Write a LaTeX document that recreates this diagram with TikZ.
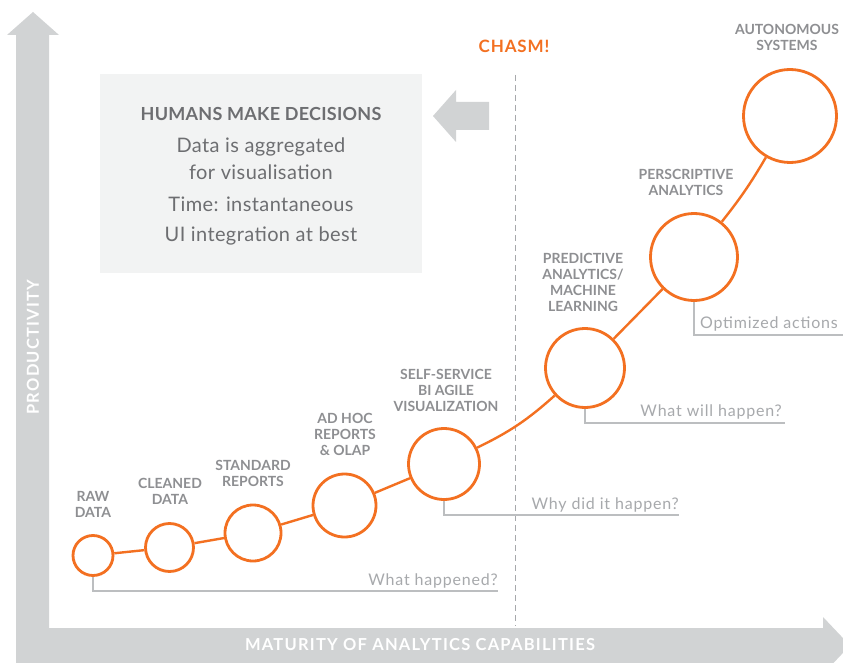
\documentclass[tikz,border=0pt]{standalone}
\usepackage{fontspec}
\setmainfont{Lato}
\definecolor{axisgray}{HTML}{D1D3D4}
\definecolor{boxfill}{HTML}{F2F3F3}
\definecolor{orangeA}{HTML}{F37021}
\definecolor{headgray}{HTML}{6D6E71}
\definecolor{labgray}{HTML}{8E8F92}
\definecolor{qgray}{HTML}{A7A9AC}
\definecolor{brgray}{HTML}{BCBEC0}
\begin{document}
\begin{tikzpicture}[x=1pt,y=-1pt,
  stage/.style={circle, draw=orangeA, line width=2.8pt, inner sep=0pt, fill=white},
  conn/.style={draw=orangeA, line width=2.4pt},
  lab/.style={text=labgray, font=\fontsize{14}{16}\selectfont\bfseries, align=center, inner sep=0pt},
  qtext/.style={text=qgray, font=\fontsize{16}{18}\selectfont\addfontfeature{LetterSpace=5}, inner sep=0pt},
  bracket/.style={draw=brgray, line width=1.3pt},
  boxtext/.style={text=headgray, font=\fontsize{20}{27}\selectfont\addfontfeature{LetterSpace=2}, align=center, inner sep=0pt},
  axistext/.style={text=white, font=\fontsize{16.5}{20}\selectfont\bfseries\addfontfeature{LetterSpace=7.5}, inner sep=0pt}]
\useasboundingbox (0,0) rectangle (843,663);
\fill[white] (0,0) rectangle (843,663);
% axes
\fill[axisgray] (16,663) -- (16,35) -- (7,35) -- (33,12) -- (59,35) -- (49,35) -- (49,663) -- cycle;
\fill[axisgray] (49,628) -- (823,628) -- (823,617) -- (850,645.5) -- (823,674) -- (823,663) -- (49,663) -- cycle;
\node[axistext, rotate=90] (ylab) at (33,347) {PRODUCTIVITY};
\node[axistext] (xlab) at (420,645) {MATURITY OF ANALYTICS CAPABILITIES};
% info box
\node[fill=boxfill, minimum width=322pt, minimum height=199pt, inner sep=0pt] (box) at (261,173.5) {};
\node[boxtext, font=\fontsize{18}{22}\selectfont\bfseries\addfontfeature{LetterSpace=1.5}] (h1) at (261,114) {HUMANS MAKE DECISIONS};
\node[boxtext] (t1) at (261,158.5) {Data is aggregated\\for visualisation};
\node[boxtext] (t2) at (261,204) {Time: instantaneous};
\node[boxtext] (t3) at (261,236) {UI integration at best};
\fill[axisgray] (433,116) -- (456,90) -- (456,102) -- (489,102) -- (489,130) -- (456,130) -- (456,142) -- cycle;
% chasm
\node[text=orangeA, font=\fontsize{17}{20}\selectfont\bfseries\addfontfeature{LetterSpace=5}, inner sep=0pt] (chasm) at (514,46) {CHASM!};
\coordinate (dtop) at (515,75);
\coordinate (dbot) at (515,626);
\draw[qgray, line width=1pt, dash pattern=on 6pt off 4pt] (dtop) -- (dbot);
% stages
\node[stage, minimum size=40pt] (c1) at (93,555.5) {};
\node[stage, minimum size=48pt] (c2) at (169.5,547.5) {};
\node[stage, minimum size=56pt] (c3) at (253,533) {};
\node[stage, minimum size=63pt] (c4) at (344.5,505.5) {};
\node[stage, minimum size=71pt] (c5) at (444,464) {};
\node[stage, minimum size=79pt] (c6) at (585,368) {};
\node[stage, minimum size=87pt] (c7) at (694,257) {};
\node[stage, minimum size=93pt] (c8) at (790,116) {};
\draw[conn] (c1) -- (c2);
\draw[conn] (c2) -- (c3);
\draw[conn] (c3) -- (c4);
\draw[conn] (c4) -- (c5);
\draw[conn] (c5) to[bend right=8] (c6);
\draw[conn] (c6) -- (c7);
\draw[conn] (c7) to[bend right=4] (c8);
% labels
\node[lab] (l1) at (93,504) {RAW\\DATA};
\node[lab] (l2) at (170,491) {CLEANED\\DATA};
\node[lab] (l3) at (253,473) {STANDARD\\REPORTS};
\node[lab] (l4) at (345,434) {AD HOC\\REPORTS\\\& OLAP};
\node[lab] (l5) at (446,390) {SELF-SERVICE\\BI AGILE\\VISUALIZATION};
\node[lab] (l6) at (583,282) {PREDICTIVE\\ANALYTICS/\\MACHINE\\LEARNING};
\node[lab] (l7) at (686,182) {PERSCRIPTIVE\\ANALYTICS};
\node[lab] (l8) at (787,37) {AUTONOMOUS\\SYSTEMS};
% questions
\coordinate (q1e) at (498,591);
\coordinate (q2e) at (679,515);
\coordinate (q3e) at (785,423);
\coordinate (q4e) at (843,335);
\draw[bracket] (c1.south) |- (q1e);
\draw[bracket] (c5.south) |- (q2e);
\draw[bracket] (c6.south) |- (q3e);
\draw[bracket] (c7.south) |- (q4e);
\node[qtext, anchor=base east] (q1) at (498,585) {What happened?};
\node[qtext, anchor=base east] (q2) at (679,509) {Why did it happen?};
\node[qtext, anchor=base east] (q3) at (782,416) {What will happen?};
\node[qtext, anchor=base east] (q4) at (838,328) {Optimized actions};
\end{tikzpicture}
\end{document}
